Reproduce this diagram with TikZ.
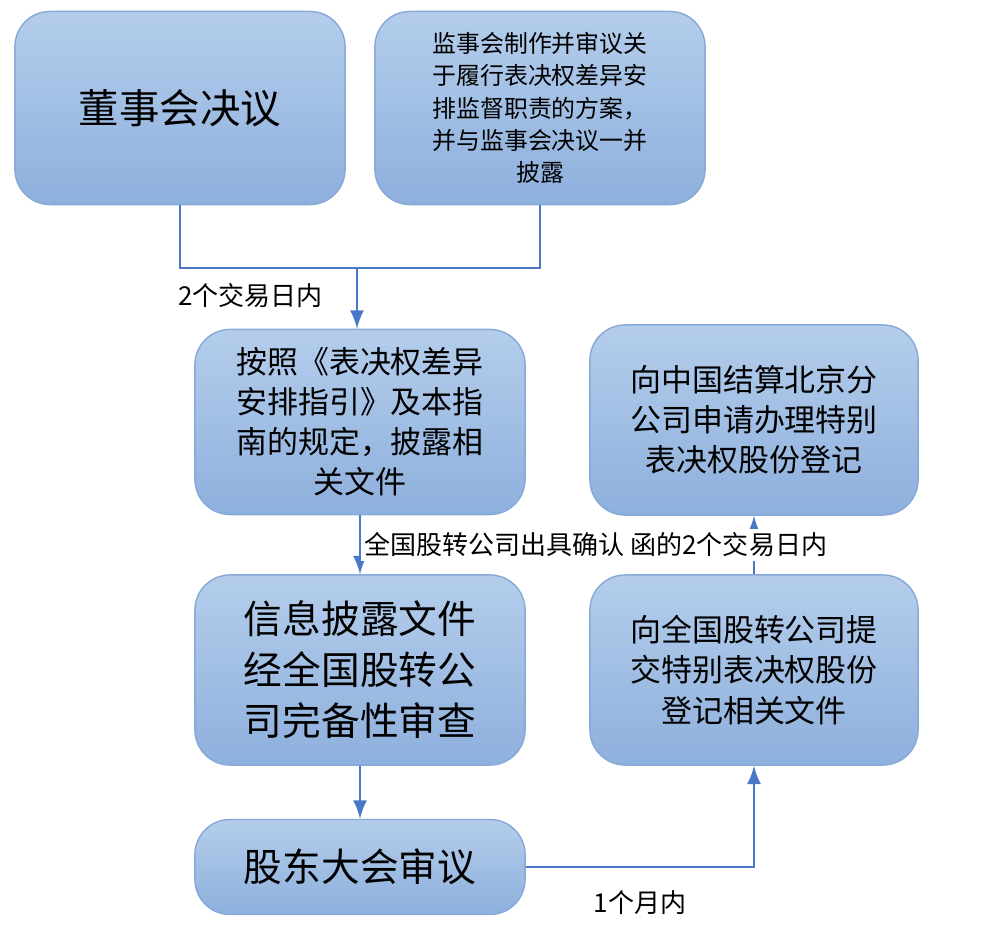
\documentclass[tikz,border=0pt]{standalone}
\usepackage{fontspec}
\setmainfont{Noto Sans CJK SC}
\usetikzlibrary{positioning,calc}
\definecolor{boxtop}{HTML}{B4CDEB}
\definecolor{boxbot}{HTML}{8EB0DD}
\definecolor{boxline}{HTML}{86A9D8}
\definecolor{flow}{HTML}{4A78C8}
\begin{document}
\begin{tikzpicture}[x=0.01cm,y=-0.01cm,
        box/.style={rectangle, draw=boxline, rounded corners=10pt, top color=boxtop, bottom color=boxbot, align=center, inner sep=0pt},
        arrow/.style={->, thick, draw=flow, >=latex},
        line/.style={thick, draw=flow}
    ]
        \useasboundingbox (0,0) rectangle (1000,928);
        % Nodes
        \node[box, minimum width=3.3cm, minimum height=1.93cm, font=\fontsize{11.5}{14}\selectfont] (board) at (180,108) {董事会决议};
        \node[box, minimum width=3.3cm, minimum height=1.93cm, font=\fontsize{6.8}{9.2}\selectfont] (super) at (540,108) {监事会制作并审议关\\于履行表决权差异安\\排监督职责的方案，\\并与监事会决议一并\\披露};
        \node[box, minimum width=3.3cm, minimum height=1.85cm, font=\fontsize{8.8}{11.4}\selectfont] (disclose) at (360,422) {按照《表决权差异\\安排指引》及本指\\南的规定，披露相\\关文件};
        \node[box, minimum width=3.3cm, minimum height=1.9cm, font=\fontsize{11}{14.5}\selectfont] (review) at (360,670) {信息披露文件\\经全国股转公\\司完备性审查};
        \node[box, minimum width=3.3cm, minimum height=0.95cm, font=\fontsize{11}{14}\selectfont] (meeting) at (360,867) {股东大会审议};
        \node[box, minimum width=3.28cm, minimum height=1.9cm, font=\fontsize{8.8}{11.4}\selectfont] (submit) at (754,670) {向全国股转公司提\\交特别表决权股份\\登记相关文件};
        \node[box, minimum width=3.28cm, minimum height=1.9cm, font=\fontsize{8.8}{11.4}\selectfont] (register) at (754,420) {向中国结算北京分\\公司申请办理特别\\表决权股份登记};
        \coordinate (join) at (357,268);

        % Arrows
        \draw[line] (board.south) |- (join) -| (super.south);
        \draw[arrow] (join) -- node[pos=0.45, left=6pt, font=\fontsize{7.4}{9}\selectfont] {2个交易日内} (join |- disclose.north);
        \draw[arrow] (disclose) -- (review);
        \draw[arrow] (review) -- (meeting);
        \draw[arrow] (meeting.east) -| node[pos=0.25, below=3pt, font=\fontsize{7.4}{9}\selectfont] {1个月内} (submit.south);
        \draw[arrow] (submit) -- node[fill=white, inner sep=1pt, xshift=-45, font=\fontsize{7.4}{9}\selectfont] {全国股转公司出具确认 函的2个交易日内} (register);
    \end{tikzpicture}
\end{document}
